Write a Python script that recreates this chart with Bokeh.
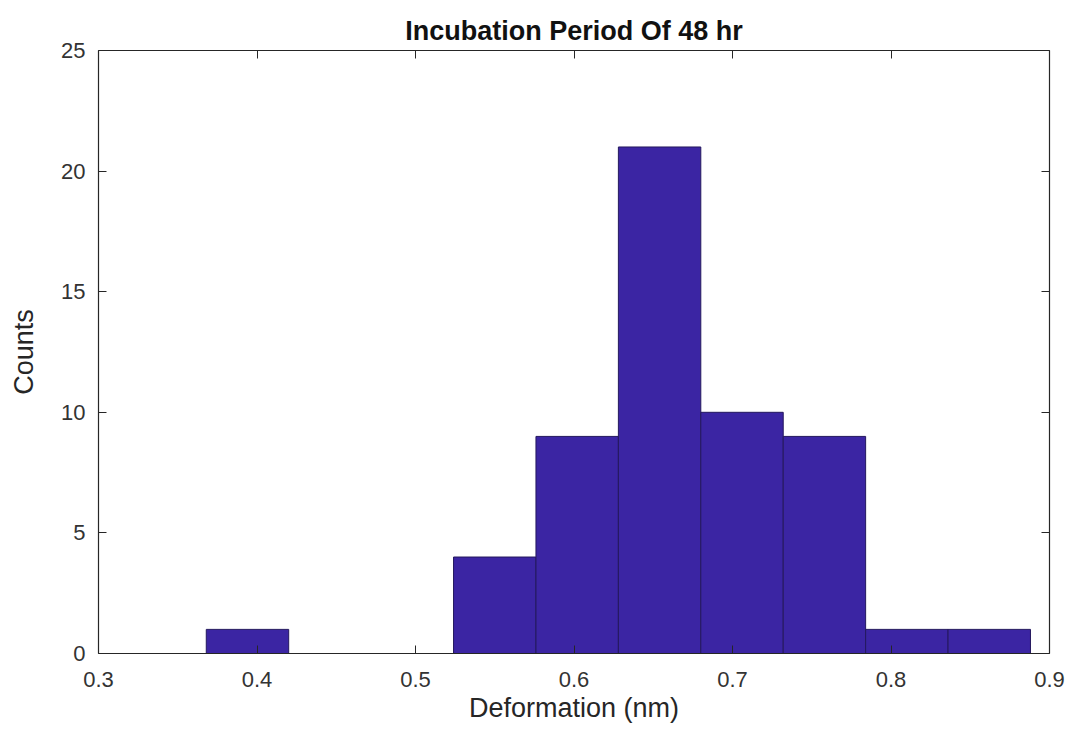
from bokeh.plotting import figure
from bokeh.models import LinearAxis, FixedTicker, Range1d, CustomJSTickFormatter
from bokeh.embed import file_html
from bokeh.resources import INLINE

# Data
bin_edges = [0.368, 0.420, 0.472, 0.524, 0.576, 0.628, 0.680, 0.732, 0.784, 0.836, 0.888]
counts = [1, 0, 0, 4, 9, 21, 10, 9, 1, 1]
x_ticks = [0.3, 0.4, 0.5, 0.6, 0.7, 0.8, 0.9]
y_ticks = [0, 5, 10, 15, 20, 25]
title_text = "Incubation Period Of 48 hr"
x_label = "Deformation (nm)"
y_label = "Counts"

FONT = "Liberation Sans"
AX = "#262626"

p = figure(width=1076, height=732, output_backend="svg", toolbar_location=None,
           x_range=Range1d(0.3, 0.9), y_range=Range1d(0, 25),
           min_border_left=98, min_border_right=27, min_border_top=50, min_border_bottom=79,
           x_axis_location=None, y_axis_location=None)

p.quad(left=bin_edges[:-1], right=bin_edges[1:], bottom=0, top=counts,
       fill_color="#3b25a3", line_color="#24185e", line_width=1)

p.grid.visible = False
p.outline_line_color = None
p.background_fill_color = "white"
p.border_fill_color = "white"

def style(ax, show_labels):
    ax.axis_line_color = AX
    ax.axis_line_width = 1.2
    ax.major_tick_line_color = AX
    ax.major_tick_in = 8
    ax.major_tick_out = 0
    ax.minor_tick_line_color = None
    ax.major_label_text_font = FONT
    ax.major_label_text_color = "#333333"
    if show_labels:
        ax.major_label_text_font_size = "22px"
    else:
        ax.formatter = CustomJSTickFormatter(code="return '';")
        ax.major_label_text_font_size = "1px"
        ax.major_label_standoff = 0

xb = LinearAxis(ticker=FixedTicker(ticks=x_ticks), axis_label=x_label)
style(xb, True)
xb.major_label_standoff = 18
xb.axis_label_standoff = 3
xb.axis_label_text_font = FONT
xb.axis_label_text_font_style = "normal"
xb.axis_label_text_font_size = "27px"
xb.axis_label_text_color = AX
p.add_layout(xb, "below")

yl = LinearAxis(ticker=FixedTicker(ticks=y_ticks), axis_label=y_label)
style(yl, True)
yl.major_label_standoff = 13
yl.axis_label_standoff = 19
yl.axis_label_text_font = FONT
yl.axis_label_text_font_style = "normal"
yl.axis_label_text_font_size = "27px"
yl.axis_label_text_color = AX
p.add_layout(yl, "left")

xt = LinearAxis(ticker=FixedTicker(ticks=x_ticks))
style(xt, False)
p.add_layout(xt, "above")

yr = LinearAxis(ticker=FixedTicker(ticks=y_ticks))
style(yr, False)
p.add_layout(yr, "right")

p.title.text = title_text
p.title.align = "center"
p.title.text_font = FONT
p.title.text_font_style = "bold"
p.title.text_font_size = "27px"
p.title.text_color = "#111111"
p.title.standoff = 9

open("out.html", "w").write(file_html(p, INLINE))
